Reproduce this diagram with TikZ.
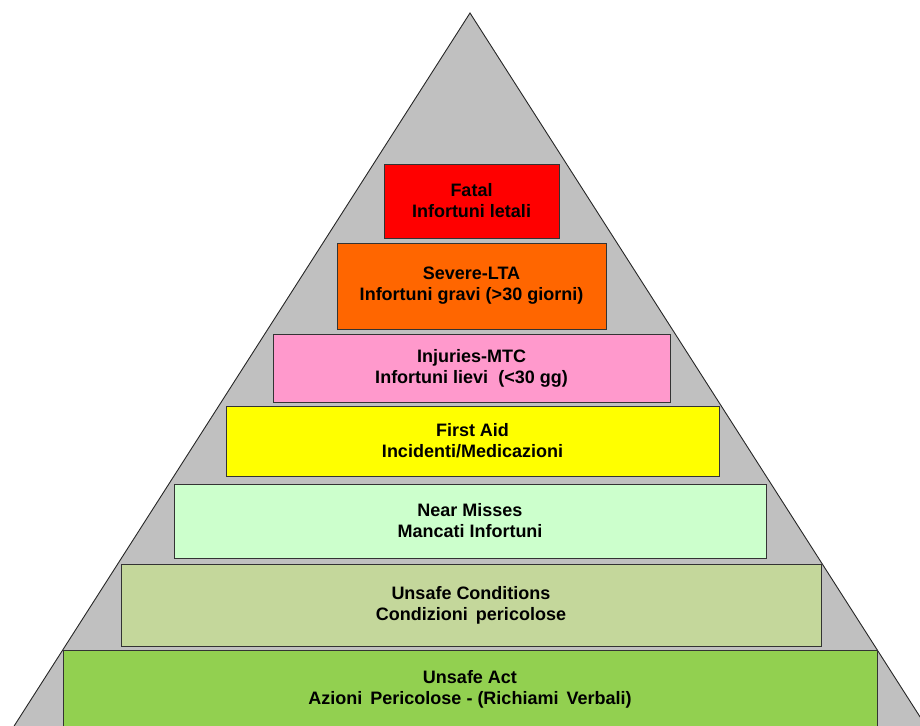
\documentclass[tikz,border=0pt]{standalone}
\usepackage{fontspec}
\setmainfont{Liberation Sans}
\definecolor{tri}{HTML}{C0C0C0}
\definecolor{cfatal}{HTML}{FF0000}
\definecolor{csevere}{HTML}{FF6600}
\definecolor{cinj}{HTML}{FF99CC}
\definecolor{caid}{HTML}{FFFF00}
\definecolor{cnear}{HTML}{CCFFCC}
\definecolor{ccond}{HTML}{C4D79B}
\definecolor{cact}{HTML}{92D050}
\begin{document}
\begin{tikzpicture}[x=1pt,y=-1pt]
\tikzset{
  level/.style={draw=black!80, line width=0.9pt, inner sep=0pt, align=center,
    font=\fontsize{18}{21}\selectfont\bfseries, text=black},
}
\useasboundingbox (0,0) rectangle (920,725);
\clip (0,0) rectangle (920,725);
\coordinate (apex) at (470,13);
\coordinate (bl) at (-30,795);
\coordinate (br) at (970,795);
\filldraw[fill=tri, draw=black!85, line width=0.9pt] (apex) -- (bl) -- (br) -- cycle;
\node[level, fill=cfatal, minimum width=175, minimum height=74] (fatal) at (471.5,201) {Fatal\\Infortuni letali};
\node[level, fill=csevere, minimum width=269, minimum height=86] (severe) at (471.5,286) {Severe-LTA\\Infortuni gravi (>30 giorni)};
\node[level, fill=cinj, minimum width=397, minimum height=68] (inj) at (471.5,368) {Injuries-MTC\\Infortuni lievi\ \ (<30 gg)};
\node[level, fill=caid, minimum width=493, minimum height=70] (aid) at (472.5,441) {First Aid\\Incidenti/Medicazioni};
\node[level, fill=cnear, minimum width=592, minimum height=74] (near) at (470,521) {Near Misses\\Mancati Infortuni};
\node[level, fill=ccond, minimum width=700, minimum height=82] (cond) at (471,605) {Unsafe Conditions\\Condizioni\ \,pericolose};
\node[level, fill=cact, minimum width=814, minimum height=78] (act) at (470,689) {Unsafe Act\\Azioni\ \,Pericolose - (Richiami\ \,Verbali)};
\end{tikzpicture}
\end{document}
